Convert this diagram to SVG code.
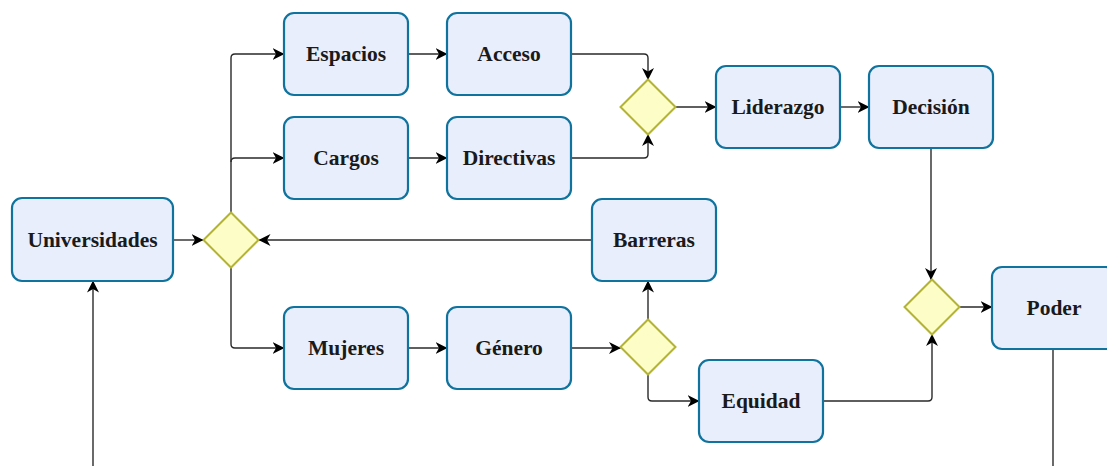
<svg xmlns="http://www.w3.org/2000/svg" width="1107" height="466" viewBox="0 0 1107 466">
<style>
.box{fill:#e9eefc;stroke:#10739e;stroke-width:2.2}
.dia{fill:#fdfdc8;stroke:#b3b336;stroke-width:2}
.lbl{font-family:"Liberation Serif","Times New Roman",serif;font-weight:bold;font-size:21.5px;fill:#1a1a1a;text-anchor:middle;dominant-baseline:central}
.c{fill:none;stroke:#2a2a2a;stroke-width:1.4}
</style>
<defs>
<marker id="a" viewBox="0 0 12 13" refX="11.5" refY="6.5" markerWidth="12" markerHeight="13" markerUnits="userSpaceOnUse" orient="auto">
<path d="M0,0.5 L12,6.5 L0,12.5 L3.5,6.5 z" fill="#000"/>
</marker>
</defs>
<rect width="1107" height="466" fill="#fff"/>
<g id="connectors">
<path class="c" d="M173,240 H203" marker-end="url(#a)"/>
<path class="c" d="M592,240 H259" marker-end="url(#a)"/>
<path class="c" d="M231,212.5 V58 Q231,54 235,54 H284" marker-end="url(#a)"/>
<path class="c" d="M231,162 Q231,158 235,158 H284" marker-end="url(#a)"/>
<path class="c" d="M231,267.5 V344 Q231,348 235,348 H284" marker-end="url(#a)"/>
<path class="c" d="M408,54 H447" marker-end="url(#a)"/>
<path class="c" d="M408,158 H447" marker-end="url(#a)"/>
<path class="c" d="M571,54 H644 Q648,54 648,58 V79.5" marker-end="url(#a)"/>
<path class="c" d="M571,158 H644 Q648,158 648,154 V134.5" marker-end="url(#a)"/>
<path class="c" d="M675.5,107 H716" marker-end="url(#a)"/>
<path class="c" d="M840,107 H869" marker-end="url(#a)"/>
<path class="c" d="M931,148 V279.5" marker-end="url(#a)"/>
<path class="c" d="M823,401 H928 Q932,401 932,397 V334.5" marker-end="url(#a)"/>
<path class="c" d="M959.5,307 H992" marker-end="url(#a)"/>
<path class="c" d="M408,348 H447" marker-end="url(#a)"/>
<path class="c" d="M571,348 H620.5" marker-end="url(#a)"/>
<path class="c" d="M648,319.5 V281" marker-end="url(#a)"/>
<path class="c" d="M648,374.5 V397 Q648,401 652,401 H699" marker-end="url(#a)"/>
<path class="c" d="M1053,349 V466"/>
<path class="c" d="M93,466 V281" marker-end="url(#a)"/>
</g>
<g id="universidades"><rect class="box" x="12" y="198" width="161" height="83" rx="10"/><text class="lbl" x="92.5" y="240">Universidades</text></g>
<g id="gate1"><path class="dia" d="M231,212.5 L258.5,240 L231,267.5 L203.5,240 Z"/></g>
<g id="espacios"><rect class="box" x="284" y="13" width="124" height="82" rx="10"/><text class="lbl" x="346" y="54">Espacios</text></g>
<g id="acceso"><rect class="box" x="447" y="13" width="124" height="82" rx="10"/><text class="lbl" x="509" y="54">Acceso</text></g>
<g id="cargos"><rect class="box" x="284" y="117" width="124" height="82" rx="10"/><text class="lbl" x="346" y="158">Cargos</text></g>
<g id="directivas"><rect class="box" x="447" y="117" width="124" height="82" rx="10"/><text class="lbl" x="509" y="158">Directivas</text></g>
<g id="gate2"><path class="dia" d="M648,79.5 L675.5,107 L648,134.5 L620.5,107 Z"/></g>
<g id="liderazgo"><rect class="box" x="716" y="66" width="124" height="82" rx="10"/><text class="lbl" x="778" y="107">Liderazgo</text></g>
<g id="decision"><rect class="box" x="869" y="66" width="124" height="82" rx="10"/><text class="lbl" x="931" y="107">Decisión</text></g>
<g id="barreras"><rect class="box" x="592" y="199" width="124" height="82" rx="10"/><text class="lbl" x="654" y="240">Barreras</text></g>
<g id="mujeres"><rect class="box" x="284" y="307" width="124" height="82" rx="10"/><text class="lbl" x="346" y="348">Mujeres</text></g>
<g id="genero"><rect class="box" x="447" y="307" width="124" height="82" rx="10"/><text class="lbl" x="509" y="348">Género</text></g>
<g id="gate3"><path class="dia" d="M648,319.5 L675.5,347 L648,374.5 L620.5,347 Z"/></g>
<g id="equidad"><rect class="box" x="699" y="360" width="124" height="82" rx="10"/><text class="lbl" x="761" y="401">Equidad</text></g>
<g id="gate4"><path class="dia" d="M932,279.5 L959.5,307 L932,334.5 L904.5,307 Z"/></g>
<g id="poder"><rect class="box" x="992" y="267" width="124" height="82" rx="10"/><text class="lbl" x="1054" y="308">Poder</text></g>
</svg>
